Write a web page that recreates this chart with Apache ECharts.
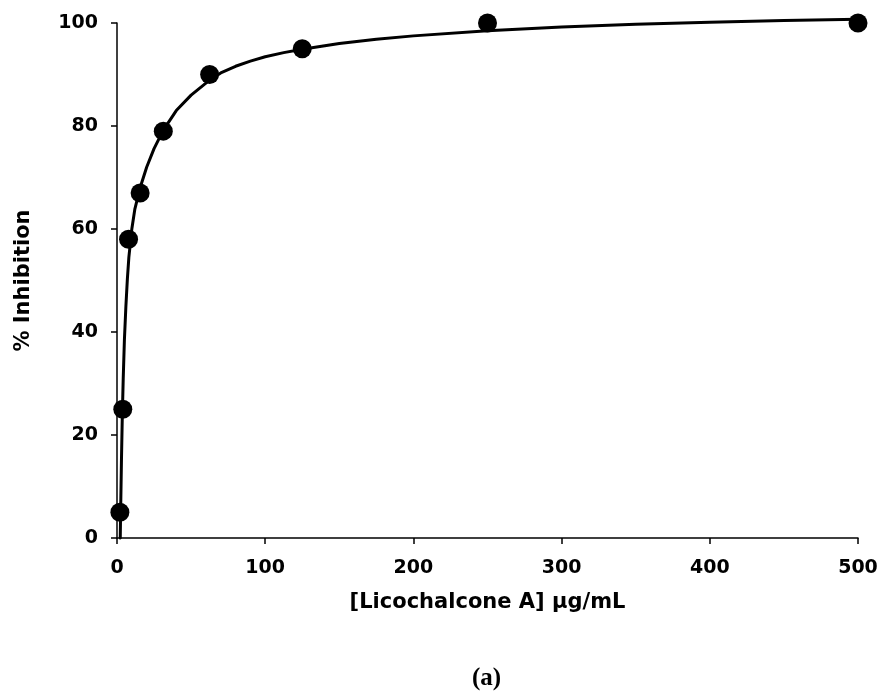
<!DOCTYPE html>
<html>
<head>
<meta charset="utf-8">
<script src="https://cdn.jsdelivr.net/npm/echarts@6/dist/echarts.min.js"></script>
<style>
html,body{margin:0;padding:0;background:#fff;}
#c{width:882px;height:700px;}
</style>
</head>
<body>
<div id="c"></div>
<script>
// Measured data points: concentration (µg/mL) and % inhibition
var concentrations = [1.95, 3.9, 7.8, 15.6, 31.25, 62.5, 125, 250, 500];
var inhibition = [5, 25, 58, 67, 79, 90, 95, 100, 100];

// Fitted curve
var curveX = [2.2, 2.5, 3.0, 3.6, 4.2, 5.0, 6.0, 7.0, 8.0, 10, 12, 15.6, 20, 25, 31.25, 40, 50, 62.5, 70, 80, 90, 100, 112.5, 125, 150, 175, 200, 250, 300, 350, 400, 450, 500];
var curveY = [0, 6, 15, 24, 31, 38.5, 45, 50.3, 54.5, 60, 63.8, 68, 72, 75.6, 79.2, 83, 86, 88.9, 90.3, 91.6, 92.6, 93.45, 94.25, 94.9, 96.0, 96.85, 97.5, 98.5, 99.2, 99.75, 100.15, 100.5, 100.75];

// Axis ticks
var xTicks = [0, 100, 200, 300, 400, 500];
var yTicks = [0, 20, 40, 60, 80, 100];

var xTitle = '[Licochalcone A] \u03bcg/mL';
var yTitle = '% Inhibition';
var panelLabel = '(a)';

var FONT = 'DejaVu Sans';

var chart = echarts.init(document.getElementById('c'), null, {renderer: 'canvas'});
chart.setOption({
  animation: false,
  backgroundColor: '#fff',
  grid: {left: 117, right: 24, top: 23, bottom: 162},
  xAxis: {
    type: 'value',
    min: xTicks[0], max: xTicks[xTicks.length - 1], interval: xTicks[1] - xTicks[0],
    name: xTitle, nameLocation: 'middle', nameGap: 54,
    nameTextStyle: {fontFamily: FONT, fontWeight: 'bold', fontSize: 21, color: '#000'},
    axisLine: {show: true, onZero: false, lineStyle: {color: '#000', width: 1.5}},
    axisTick: {show: true, inside: false, length: 6, lineStyle: {color: '#000', width: 1.5}},
    axisLabel: {margin: 21, fontFamily: FONT, fontWeight: 'bold', fontSize: 19, color: '#000'},
    splitLine: {show: false}
  },
  yAxis: {
    type: 'value',
    min: yTicks[0], max: yTicks[yTicks.length - 1], interval: yTicks[1] - yTicks[0],
    name: yTitle, nameLocation: 'middle', nameGap: 83, nameRotate: 90,
    nameTextStyle: {fontFamily: FONT, fontWeight: 'bold', fontSize: 21, color: '#000'},
    axisLine: {show: true, onZero: false, lineStyle: {color: '#000', width: 1.5}},
    axisTick: {show: true, inside: false, length: 6, lineStyle: {color: '#000', width: 1.5}},
    axisLabel: {margin: 19, fontFamily: FONT, fontWeight: 'bold', fontSize: 19, color: '#000'},
    splitLine: {show: false}
  },
  graphic: [{
    type: 'text',
    left: 472, top: 666,
    style: {text: panelLabel, fontFamily: 'Liberation Serif', fontWeight: 'bold', fontSize: 25, fill: '#000'}
  }],
  series: [{
    type: 'line',
    data: curveX.map(function (x, i) { return [x, curveY[i]]; }),
    showSymbol: false,
    smooth: false,
    clip: false,
    lineStyle: {color: '#000', width: 3, cap: 'round', join: 'round'},
    z: 2
  }, {
    type: 'scatter',
    data: concentrations.map(function (x, i) { return [x, inhibition[i]]; }),
    symbol: 'circle',
    symbolSize: 19,
    clip: false,
    itemStyle: {color: '#000', opacity: 1},
    z: 3
  }]
});
</script>
</body>
</html>
